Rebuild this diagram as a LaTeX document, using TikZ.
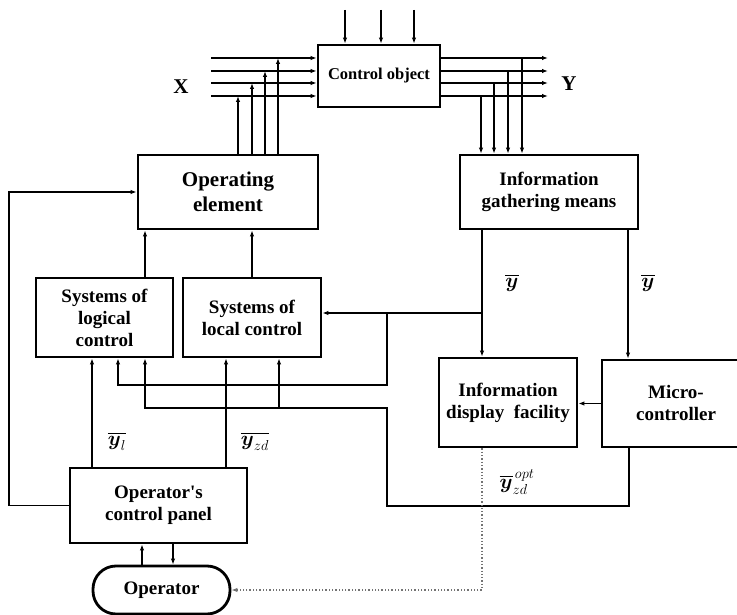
\documentclass[tikz,border=0pt]{standalone}
\usepackage{amsmath}
\usepackage{fontspec}
\setmainfont{Liberation Serif}
\usepackage{tikz}
\usetikzlibrary{arrows.meta}
\colorlet{ctlline}{black}
\colorlet{ctldots}{black!55}
\tikzset{
  ctlbox/.style={
    draw=ctlline,
    line width=2.8pt,
    align=center,
    inner sep=3pt,
    font=\bfseries\fontsize{19}{22}\selectfont
  },
  ctlflow/.style={-{Latex[length=6pt,width=4.5pt]},line width=1.8pt,ctlline},
  ctldot/.style={-{Latex[length=6pt,width=4.5pt]},line width=1.3pt,dotted,ctldots},
  ctllabel/.style={font=\fontsize{21}{23}\selectfont,inner sep=1pt}
}

\begin{document}
\begin{tikzpicture}[x=1pt,y=-1pt]
  \clip (0,0) rectangle (737,615);

  % boxes
  \node[ctlbox,minimum width=122pt,minimum height=62pt,
        font=\bfseries\fontsize{16.5}{18}\selectfont] (ctrl) at (379,76)
    {Control object};
  \node[ctlbox,minimum width=180pt,minimum height=74pt,
        font=\bfseries\fontsize{21}{25}\selectfont] (oper) at (228,192)
    {Operating\\element};
  \node[ctlbox,minimum width=178pt,minimum height=74pt] (gather) at (549,192)
    {Information\\gathering means};
  \node[ctlbox,minimum width=137pt,minimum height=79pt] (logic) at (104.5,317.5)
    {Systems of\\logical\\control};
  \node[ctlbox,minimum width=138pt,minimum height=79pt] (local) at (252,317.5)
    {Systems of\\local control};
  \node[ctlbox,minimum width=138pt,minimum height=89pt] (display) at (508,402.5)
    {Information\\display\ \ facility};
  \node[ctlbox,minimum width=148pt,minimum height=87pt] (micro) at (676,403.5)
    {Micro-\\controller};
  \node[ctlbox,minimum width=177pt,minimum height=75pt] (panel) at (158.5,505.5)
    {Operator\textquotesingle s\\control panel};
  \node[ctlbox,minimum width=137pt,minimum height=48pt,rounded corners=23pt] (operator) at (161.5,590)
    {Operator};

  % inputs X and outputs Y of the object
  \foreach \i/\yy in {1/58,2/71,3/83,4/96} {
    \coordinate (xin\i) at (211,\yy);
    \coordinate (yout\i) at (548,\yy);
    \draw[ctlflow] (xin\i) -- (xin\i -| ctrl.west);
    \draw[ctlflow] (yout\i -| ctrl.east) -- (yout\i);
  }
  \node[font=\bfseries\fontsize{21}{23}\selectfont] (xlab) at (181,87) {X};
  \node[font=\bfseries\fontsize{21}{23}\selectfont] (ylab) at (569,84) {Y};

  % disturbances from above
  \foreach \i/\xx in {1/345,2/381,3/414} {
    \coordinate (dist\i) at (\xx,10);
    \draw[ctlflow] (dist\i) -- (dist\i |- ctrl.north);
  }

  % operating element acts on the inputs
  \foreach \i/\xx in {4/238,3/252,2/265,1/278} {
    \coordinate (up\i) at (\xx,0 |- xin\i);
    \draw[ctlflow] (up\i |- oper.north) -- (up\i);
  }

  % outputs to information gathering
  \foreach \i/\xx in {4/481,3/494,2/508,1/522} {
    \coordinate (dn\i) at (\xx,0 |- yout\i);
    \draw[ctlflow] (dn\i) -- (dn\i |- gather.north);
  }

  % control systems to operating element
  \coordinate (c145) at (145,408);
  \coordinate (c279) at (279,408);
  \coordinate (c118) at (118,385);
  \draw[ctlflow] (c145 |- logic.north) -- (c145 |- oper.south);
  \draw[ctlflow] (local.north) -- (local.north |- oper.south);

  % measured values
  \coordinate (ybar1) at (482,313);
  \coordinate (ybar2) at (628,313);
  \coordinate (j387) at (387,313);
  \draw[ctlflow] (gather.south -| ybar1) -- (ybar1 |- display.north);
  \draw[ctlflow] (ybar1) -- (ybar1 -| local.east);
  \draw[ctlflow] (j387) |- (c118) -- (c118 |- logic.south);
  \draw[ctlflow] (gather.south -| ybar2) -- (ybar2 |- micro.north);
  \node[ctllabel] (ybarl) at (512,283) {$\overline{\boldsymbol{y}}$};
  \node[ctllabel] (ybarr) at (648,283) {$\overline{\boldsymbol{y}}$};

  % microcontroller
  \coordinate (mo) at (629,506);
  \coordinate (mret) at (387,408);
  \draw[ctlflow] (micro.west) -- (micro.west -| display.east);
  \draw[ctlflow] (mo |- micro.south) -- (mo) -| (mret) -- (c145) -- (c145 |- logic.south);
  \draw[ctlflow] (c279) -- (c279 |- local.south);
  \node[ctllabel] (yopt) at (517,482) {$\overline{\boldsymbol{y}}_{zd}^{\,opt}$};

  % operator's control panel
  \coordinate (cyl) at (92,443);
  \coordinate (cyzd) at (226,443);
  \coordinate (fbcorner) at (9,192);
  \draw[ctlflow] (panel.north -| cyl) -- (cyl |- logic.south);
  \draw[ctlflow] (panel.north -| cyzd) -- (cyzd |- local.south);
  \node[ctllabel] (yllab) at (117,441) {$\overline{\boldsymbol{y}_{l}}$};
  \node[ctllabel] (yzdlab) at (255,441) {$\overline{\boldsymbol{y}_{zd}}$};
  \draw[ctlflow] (panel.west) -| (fbcorner) -- (fbcorner -| oper.west);

  % operator
  \coordinate (c142) at (142,555);
  \coordinate (c173) at (173,555);
  \draw[ctlflow] (c142 |- operator.north) -- (c142 |- panel.south);
  \draw[ctlflow] (c173 |- panel.south) -- (c173 |- operator.north);
  \coordinate (dcorner) at (482,590);
  \draw[ctldot] (display.south -| dcorner) -- (dcorner) -- (dcorner -| operator.east);
\end{tikzpicture}
\end{document}
